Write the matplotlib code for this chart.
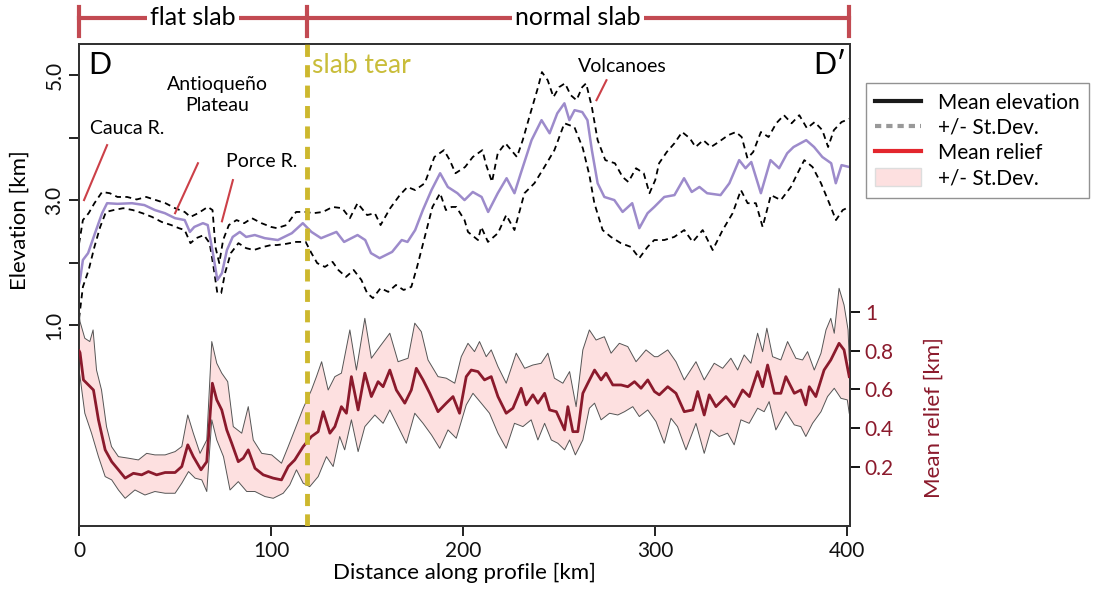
import numpy as np
import matplotlib
matplotlib.use('Agg')
import matplotlib.pyplot as plt
import matplotlib.transforms as mtransforms
from matplotlib.lines import Line2D
from matplotlib.patches import Patch

plt.rcParams['font.family'] = ['Lato', 'DejaVu Sans']

#----------------------------------------
# Mean elevation along profile D-D' (km)
elev_km = [0, 0.5, 2, 4.7, 8.3, 12, 14.6, 20, 27.6, 34, 39.5, 44.7, 50, 55, 57.7, 60, 64.5, 67, 69.7, 72,
           74.4, 77, 80, 83.7, 87, 91.5, 96.7, 103.5, 110.8, 116.5, 121, 126, 134, 138, 145, 149, 152, 156.5,
           163, 168, 171, 175, 179, 183.5, 188, 192, 197, 200.7, 205, 209.6, 213, 218, 222.6, 226.7, 230,
           235.6, 240.8, 245, 249, 252.7, 255.3, 258, 262, 264.7, 267, 270, 273.5, 278.7, 283, 288, 291.7,
           296, 299.5, 304.7, 310, 315, 319, 323, 327, 334, 338.6, 343.7, 347, 350, 355, 360, 364.5, 368.7,
           372, 378.6, 382.7, 387, 391.6, 394, 397, 401]
elev_mean = [1.65, 1.72, 2.04, 2.15, 2.47, 2.79, 2.95, 2.94, 2.95, 2.92, 2.84, 2.79, 2.71, 2.68, 2.49, 2.57,
             2.63, 2.6, 2.15, 1.72, 1.83, 2.2, 2.41, 2.49, 2.41, 2.44, 2.39, 2.36, 2.47, 2.63, 2.49, 2.39,
             2.49, 2.33, 2.44, 2.36, 2.15, 2.07, 2.17, 2.36, 2.33, 2.52, 2.84, 3.16, 3.43, 3.21, 3.11, 3.0,
             3.13, 3.05, 2.81, 3.11, 3.35, 3.11, 3.43, 3.96, 4.28, 4.07, 4.39, 4.55, 4.28, 4.44, 4.41, 4.28,
             3.8, 3.27, 3.05, 3.0, 2.81, 2.95, 2.55, 2.79, 2.89, 3.05, 3.08, 3.35, 3.13, 3.21, 3.11, 3.08,
             3.27, 3.64, 3.51, 3.61, 3.11, 3.64, 3.51, 3.75, 3.85, 3.96, 3.85, 3.69, 3.59, 3.27, 3.56, 3.53]

# elevation +1 st.dev.
elev_up_km = [0, 2, 5, 8, 12, 16, 20, 25, 30, 35, 40, 45, 50, 55, 58, 62, 67, 69.5, 71, 73, 75, 78, 82, 86,
              90, 95, 100, 103, 108, 113, 118, 122, 127, 132, 137, 141, 145, 150, 154, 157, 162, 167, 171,
              175, 180, 185, 190, 193, 196, 201, 205, 210, 212, 215, 218, 222, 225, 228, 231, 235, 239, 241,
              244, 247, 250, 253, 256, 259, 262, 264, 267, 270, 274, 279, 283, 286, 290, 294, 297, 300, 302,
              306, 310, 314, 318, 321, 325, 329, 333, 338, 342, 345, 348, 351, 355, 359, 363, 367, 371, 375,
              379, 383, 387, 390, 393, 397, 401]
elev_up = [2.3, 2.68, 2.79, 2.95, 3.13, 3.11, 3.05, 3.05, 3.01, 3.05, 3.0, 2.95, 2.87, 2.81, 2.73, 2.79,
           2.89, 2.84, 2.25, 1.99, 2.36, 2.6, 2.68, 2.63, 2.71, 2.63, 2.57, 2.55, 2.6, 2.81, 2.81, 2.79, 2.81,
           2.89, 2.87, 2.71, 2.95, 2.76, 2.79, 2.6, 2.87, 3.08, 3.21, 3.16, 3.27, 3.69, 3.8, 3.64, 3.43, 3.53,
           3.69, 3.8, 3.56, 3.29, 3.75, 3.91, 3.8, 3.69, 3.96, 4.39, 4.81, 5.05, 4.92, 4.65, 4.81, 4.87, 4.68,
           4.6, 4.81, 4.87, 4.49, 3.96, 3.64, 3.59, 3.37, 3.29, 3.51, 3.43, 3.11, 3.32, 3.59, 3.77, 3.91,
           4.09, 3.99, 3.85, 3.96, 3.85, 3.93, 4.04, 4.09, 4.01, 3.67, 3.77, 4.09, 4.01, 4.23, 4.36, 4.23,
           4.36, 4.15, 4.25, 4.12, 3.85, 4.12, 4.25, 4.3]

# elevation -1 st.dev.
elev_lo_km = [0, 2, 5, 8, 11, 14, 18, 23, 28, 33, 38, 43, 48, 52, 55, 58, 61, 65, 68, 70, 72, 74, 76, 79,
              83, 87, 91, 96, 100, 103, 108, 113, 118, 121, 124, 128, 132, 135, 139, 143, 147, 150, 153, 157,
              161, 165, 169, 173, 176, 180, 184, 188, 191, 194, 196.4, 200.7, 202.5, 207.7, 209.4, 212.9,
              218.1, 222.4, 226.7, 231.9, 237.1, 242.3, 247.5, 252.7, 257.9, 262.3, 265.7, 268.3, 272.6,
              276.9, 282.1, 287.3, 291.7, 296, 299.5, 304.7, 309.9, 315.1, 319.5, 324.7, 329.9, 335.1, 340.3,
              344.6, 348.1, 352.4, 355.9, 360.2, 365.4, 370.6, 374.1, 377.6, 381.9, 386.3, 390.6, 394.1,
              397.6, 401]
elev_lo = [1.1, 1.61, 1.88, 2.25, 2.57, 2.81, 2.84, 2.87, 2.84, 2.79, 2.73, 2.65, 2.6, 2.55, 2.52, 2.31,
           2.39, 2.44, 2.31, 1.93, 1.51, 1.51, 1.83, 2.15, 2.31, 2.23, 2.2, 2.25, 2.28, 2.28, 2.3, 2.33, 2.33,
           2.15, 1.99, 1.93, 2.01, 1.88, 1.77, 1.88, 1.72, 1.51, 1.43, 1.59, 1.53, 1.64, 1.56, 1.61, 1.93,
           2.41, 2.89, 3.11, 2.84, 2.89, 2.89, 2.68, 2.49, 2.36, 2.57, 2.33, 2.47, 2.76, 2.52, 3.11, 3.27,
           3.53, 3.8, 4.23, 4.17, 3.83, 3.4, 2.95, 2.52, 2.41, 2.31, 2.25, 2.07, 2.25, 2.36, 2.36, 2.41, 2.52,
           2.33, 2.52, 2.2, 2.52, 2.79, 3.16, 2.95, 2.95, 2.57, 3.08, 3.0, 3.21, 3.43, 3.64, 3.53, 3.27, 2.95,
           2.68, 2.84, 2.89]

#----------------------------------------
# Mean relief (km)
rel_km = [0, 0.5, 2.3, 4.9, 7.5, 10.1, 13.6, 17, 20.5, 24, 28.3, 32.6, 36.1, 40.4, 44.8, 50, 53.5, 56.6,
          59.5, 63.5, 66.5, 69.4, 71.7, 74.3, 76.9, 79.5, 82.9, 85.5, 88.1, 91.6, 95.9, 101.1, 105.4, 108.9,
          112.3, 116.7, 121, 124.5, 127.1, 130.6, 133.2, 136.6, 139.2, 141.8, 145.3, 148.8, 152.2, 155.7,
          158.3, 161.8, 165.2, 169.6, 173, 175.6, 179.1, 182.6, 186.9, 191.2, 194.7, 198.1, 201.6, 204.2,
          207.7, 211.1, 214.6, 218.1, 222.4, 225.9, 230.2, 232.8, 236.3, 238.9, 242.4, 245, 248.5, 252.8,
          254.5, 257.1, 259.7, 262.3, 264.9, 268.4, 271.8, 274.4, 277.9, 282.2, 285.7, 289.2, 292.6, 296.1,
          299.6, 302.1, 306.5, 310.8, 315.1, 319.5, 322.1, 325.5, 328.1, 331.6, 336.8, 341.1, 345.5, 349,
          353.3, 355.9, 358.5, 362, 365.4, 368, 372.4, 375.8, 378.4, 380.2, 383.6, 387.9, 391.4, 395.7,
          398.3, 401]
rel_mean = [0.8, 0.79, 0.649, 0.623, 0.597, 0.443, 0.288, 0.227, 0.185, 0.142, 0.167, 0.159, 0.176, 0.159,
            0.171, 0.171, 0.202, 0.314, 0.253, 0.185, 0.227, 0.632, 0.546, 0.494, 0.391, 0.322, 0.227, 0.245,
            0.288, 0.193, 0.159, 0.142, 0.133, 0.202, 0.236, 0.305, 0.357, 0.382, 0.485, 0.374, 0.408, 0.511,
            0.477, 0.666, 0.494, 0.684, 0.563, 0.64, 0.614, 0.7, 0.597, 0.529, 0.597, 0.709, 0.649, 0.58,
            0.485, 0.529, 0.563, 0.477, 0.666, 0.7, 0.692, 0.649, 0.666, 0.563, 0.477, 0.503, 0.606, 0.52,
            0.572, 0.529, 0.58, 0.494, 0.485, 0.391, 0.511, 0.382, 0.382, 0.58, 0.632, 0.7, 0.649, 0.684,
            0.623, 0.623, 0.614, 0.64, 0.606, 0.649, 0.589, 0.572, 0.614, 0.58, 0.485, 0.494, 0.589, 0.468,
            0.572, 0.511, 0.563, 0.511, 0.597, 0.563, 0.692, 0.614, 0.726, 0.58, 0.58, 0.666, 0.58, 0.597,
            0.52, 0.614, 0.563, 0.7, 0.752, 0.838, 0.804, 0.666]

rel_up_km = [0, 0.5, 3, 5.6, 7.3, 9.1, 11.7, 14.3, 16.9, 20.5, 25.7, 30.9, 35.2, 39.5, 44.8, 50, 53.5, 56.6,
             59.5, 63, 66.5, 69.1, 71.7, 74.3, 77.4, 80.3, 84.7, 88.1, 90.7, 95.1, 100.3, 105.4, 108.9, 112.3,
             116.7, 121, 123.6, 126.3, 129.7, 133.2, 136.6, 141, 144.4, 148.8, 152.2, 156.6, 161.8, 166.1,
             171.3, 174.8, 178.2, 181.7, 186.9, 191.2, 195.6, 199, 202.5, 205.9, 208.5, 212, 214.6, 218.1,
             222.4, 227.6, 232, 236.3, 240.6, 244.1, 247.5, 251.9, 255.4, 258.8, 262.3, 265.7, 269.2, 273.5,
             277, 281.3, 285.7, 290, 295.2, 299.6, 301.3, 306.5, 310.8, 315.1, 321.2, 325.5, 330.7, 335.1,
             339.4, 342.9, 346.3, 349.8, 353.3, 355.9, 358.1, 361.1, 365.4, 368.9, 373.2, 376.7, 379.3, 382.8,
             386.3, 388.9, 391.4, 393.2, 395.7, 398.3, 400.4, 401]
rel_up = [1.0, 0.95, 0.864, 0.847, 0.907, 0.7, 0.597, 0.408, 0.305, 0.253, 0.245, 0.236, 0.27, 0.262, 0.262,
          0.279, 0.305, 0.468, 0.374, 0.27, 0.339, 0.847, 0.735, 0.684, 0.64, 0.408, 0.374, 0.511, 0.339,
          0.27, 0.262, 0.219, 0.305, 0.391, 0.503, 0.597, 0.666, 0.743, 0.597, 0.666, 0.684, 0.907, 0.7,
          0.967, 0.761, 0.821, 0.89, 0.743, 0.761, 0.942, 0.898, 0.752, 0.666, 0.658, 0.632, 0.769, 0.838,
          0.795, 0.847, 0.769, 0.804, 0.718, 0.632, 0.787, 0.709, 0.726, 0.735, 0.787, 0.658, 0.632, 0.692,
          0.511, 0.804, 0.907, 0.855, 0.872, 0.787, 0.838, 0.821, 0.743, 0.804, 0.769, 0.769, 0.804, 0.743,
          0.649, 0.743, 0.649, 0.735, 0.709, 0.761, 0.7, 0.778, 0.735, 0.89, 0.795, 0.916, 0.769, 0.752,
          0.847, 0.761, 0.752, 0.795, 0.7, 0.787, 0.907, 0.967, 0.89, 1.122, 1.036, 0.907, 0.75]

rel_lo_km = [0, 0.5, 3, 6.5, 10.1, 13.6, 17, 20.5, 24, 29.1, 34.3, 39.5, 44.8, 50, 53.5, 57, 60.4, 63.9,
             66.5, 69.1, 71.7, 75.2, 78.6, 82.9, 87.3, 91.6, 96.8, 101.1, 106.3, 109.7, 113.2, 116.7, 120.1,
             124.5, 128.8, 132.3, 135.7, 138.3, 141.8, 145.3, 148.8, 154, 158.3, 161.8, 166.1, 170.4, 174.8,
             179.1, 183.5, 187.8, 192.1, 196.4, 201.6, 205.1, 209.4, 213.7, 218.1, 222.4, 226.7, 231.1, 235.4,
             238.9, 242.4, 245.9, 249.3, 252.8, 255.4, 258.4, 262.3, 265.7, 268.4, 271.8, 276.2, 280.5, 284,
             288.3, 291.7, 296.1, 300.4, 304.7, 308.2, 311.6, 316, 321.2, 325.5, 329, 333.3, 337.7, 341.1,
             344.6, 348.9, 353.3, 356.7, 359.3, 362.8, 368, 372.4, 375.8, 378.4, 381.9, 386.3, 389.7, 393.2,
             396.7, 400, 401]
rel_lo = [0.7, 0.666, 0.477, 0.374, 0.253, 0.15, 0.133, 0.081, 0.038, 0.081, 0.055, 0.073, 0.064, 0.064,
          0.116, 0.176, 0.142, 0.133, 0.073, 0.443, 0.339, 0.253, 0.081, 0.124, 0.073, 0.073, 0.047, 0.038,
          0.064, 0.107, 0.185, 0.116, 0.098, 0.15, 0.253, 0.202, 0.357, 0.288, 0.443, 0.279, 0.408, 0.468,
          0.425, 0.494, 0.408, 0.322, 0.477, 0.425, 0.365, 0.296, 0.391, 0.348, 0.52, 0.58, 0.529, 0.477,
          0.374, 0.296, 0.425, 0.408, 0.443, 0.339, 0.425, 0.339, 0.322, 0.288, 0.339, 0.262, 0.339, 0.503,
          0.529, 0.443, 0.477, 0.468, 0.485, 0.511, 0.46, 0.494, 0.434, 0.322, 0.451, 0.408, 0.288, 0.425,
          0.27, 0.391, 0.357, 0.374, 0.314, 0.443, 0.425, 0.503, 0.485, 0.537, 0.391, 0.485, 0.417, 0.408,
          0.357, 0.425, 0.485, 0.563, 0.606, 0.554, 0.546, 0.477]

slab_tear_km = 118.6
segments = [('flat slab', 0, slab_tear_km), ('normal slab', slab_tear_km, 401)]

#----------------------------------------
purple = '#9d8bcb'
darkred = '#8b1a2c'
pink = '#fde0e0'
olive = '#cdb82e'
bracket = '#c24a52'

fig = plt.figure(figsize=(11.01, 6.01), dpi=100)
ax = fig.add_axes([0.0718, 0.1248, 0.7004, 0.802])
ax2 = ax.twinx()

# relief band + mean
ax2.fill(np.r_[rel_up_km, rel_lo_km[::-1]], np.r_[rel_up, rel_lo[::-1]], color=pink, lw=0, zorder=1)
ax2.plot(rel_up_km, rel_up, color='#555555', lw=0.7, zorder=2)
ax2.plot(rel_lo_km, rel_lo, color='#555555', lw=0.7, zorder=2)
ax2.plot(rel_km, rel_mean, color=darkred, lw=2.0, zorder=3)

# elevation
ax.plot(elev_up_km, elev_up, color='black', lw=1.3, ls=(0, (3.3, 2.4)))
ax.plot(elev_lo_km, elev_lo, color='black', lw=1.3, ls=(0, (3.3, 2.4)))
ax.plot(elev_km, elev_mean, color=purple, lw=1.8)

ax2.axvline(slab_tear_km, color=olive, lw=3.5, ls=(0, (2.5, 1.7)), zorder=6)

ax.set_xlim(0, 401.5)
ax.set_ylim(-2.22, 5.5)
ax2.set_ylim(-0.105, 2.383)

ax.set_xticks([0, 100, 200, 300, 400])
ax.set_yticks([1, 2, 3, 4, 5])
ax.set_yticklabels(['1.0', '', '3.0', '', '5.0'], rotation=90, va='center')
ax2.set_yticks([0.2, 0.4, 0.6, 0.8, 1.0])
ax2.set_yticklabels(['0.2', '0.4', '0.6', '0.8', '1'])
ax.tick_params(axis='both', direction='out', length=7, width=1.3, labelsize=15, colors='#111111')
ax2.tick_params(axis='y', direction='out', length=7, width=1.3, labelsize=15, labelcolor=darkred)
for a in (ax, ax2):
    for s in a.spines.values():
        s.set_linewidth(1.4)
        s.set_color('#333333')

ax.set_xlabel('Distance along profile [km]', fontsize=16, labelpad=2)
ax.set_ylabel('Elevation [km]', fontsize=16)
ax.yaxis.set_label_coords(-0.064, 0.635)
ax2.set_ylabel('Mean relief [km]', fontsize=16, color=darkred, rotation=90)
ax2.yaxis.set_label_coords(1.095, 0.224)

# profile ends and slab tear label
ax.text(0.012, 0.985, 'D', transform=ax.transAxes, fontsize=22, va='top', ha='left')
ax.text(0.995, 0.985, 'D\u2032', transform=ax.transAxes, fontsize=22, va='top', ha='right')
ax.text(slab_tear_km + 2.5, 5.36, 'slab tear', color='#c9bd3a', fontsize=19, va='top', ha='left')

# feature labels
notes = [('Cauca R.', 25, 4.15, (2.6, 3.0), (14.6, 3.88)),
         ('Antioqueño\nPlateau', 72, 4.68, (50, 2.79), (61.9, 3.59)),
         ('Porce R.', 95, 3.62, (74.4, 2.66), (80.1, 3.32)),
         ('Volcanoes', 283, 5.14, (269.4, 4.6), (274.6, 4.92))]
for label, tx, ty, p0, p1 in notes:
    ax.text(tx, ty, label, fontsize=14, ha='center', va='center', linespacing=1.3)
    ax.plot([p0[0], p1[0]], [p0[1], p1[1]], color='#cc4048', lw=1.5)

# slab segments bracket above the plot
trans = mtransforms.blended_transform_factory(ax.transData, ax.transAxes)
ax.plot([0, 401], [1.054, 1.054], transform=trans, clip_on=False, color=bracket, lw=3)
for xv in [0, slab_tear_km, 401]:
    ax.plot([xv, xv], [1.016, 1.077], transform=trans, clip_on=False, color=bracket, lw=3)
for name, x0, x1 in segments:
    ax.text((x0 + x1) / 2, 1.054, name, transform=trans, fontsize=18, ha='center', va='center',
            bbox=dict(facecolor='white', edgecolor='none', pad=2))

handles = [Line2D([], [], color='#1a1a1a', lw=3),
           Line2D([], [], color='#999999', lw=3, ls=(0, (1.5, 1.2))),
           Line2D([], [], color='#e3262d', lw=3),
           Patch(facecolor=pink, edgecolor='#dddddd')]
labels = ['Mean elevation', '+/- St.Dev.', 'Mean relief', '+/- St.Dev.']
fig.legend(handles, labels, loc='upper left', bbox_to_anchor=(0.777, 0.879), fontsize=15,
           frameon=True, fancybox=False, edgecolor='#777777', handlelength=2.2, labelspacing=0.25,
           borderpad=0.45, handletextpad=0.8, handleheight=0.9)

plt.savefig('out.png', dpi=100)
